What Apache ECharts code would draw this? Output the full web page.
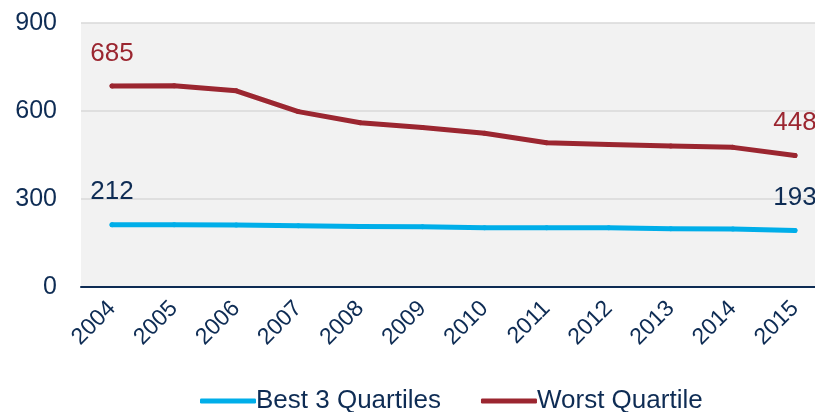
<!DOCTYPE html>
<html>
<head>
<meta charset="utf-8">
<script src="https://cdn.jsdelivr.net/npm/echarts@6/dist/echarts.min.js"></script>
<style>
  html, body { margin: 0; padding: 0; background: #fff; }
  #chart { width: 815px; height: 412px; }
</style>
</head>
<body>
<div id="chart"></div>
<script>
// values
const years = ['2004', '2005', '2006', '2007', '2008', '2009', '2010', '2011', '2012', '2013', '2014', '2015']
const best3Quartiles = [212, 212, 211, 209, 206, 205, 202, 202, 202, 199, 198, 193]
const worstQuartile = [685, 686, 669, 598, 560, 544, 524, 492, 486, 481, 476, 448]
const yTicks = [0, 300, 600, 900]

const NAVY = '#0e2c54'
const BLUE = '#00aee9'
const RED = '#9b2630'
const FONT = '"Liberation Sans", Arial, sans-serif'

const chart = echarts.init(document.getElementById('chart'))

// only the first and last point carry a label
function endLabel(color) {
  return {
    show: true,
    position: 'top',
    distance: 17,
    color: color,
    fontSize: 26,
    fontFamily: FONT,
    formatter: p => (p.dataIndex === 0 || p.dataIndex === years.length - 1) ? String(p.value) : ''
  }
}

function lineSeries(name, data, color, labelColor) {
  return {
    name: name,
    type: 'line',
    data: data,
    symbol: 'circle',
    symbolSize: 5,
    itemStyle: { color: color },
    lineStyle: { color: color, width: 5, cap: 'round', join: 'round' },
    label: endLabel(labelColor),
    z: 3
  }
}

chart.setOption({
  animation: false,
  grid: {
    left: 81,
    top: 23,
    width: 745,
    height: 264,
    outerBoundsMode: 'none',
    containLabel: false,
    show: true,
    backgroundColor: '#f2f2f2',
    borderWidth: 0
  },
  legend: {
    left: 195,
    top: 383,
    itemWidth: 56,
    itemHeight: 5,
    itemGap: 40,
    icon: 'roundRect',
    textStyle: { color: NAVY, fontSize: 26, fontFamily: FONT, padding: [0, 0, 0, -5] },
    data: ['Best 3 Quartiles', 'Worst Quartile']
  },
  xAxis: {
    type: 'category',
    data: years,
    boundaryGap: true,
    axisLine: { lineStyle: { color: NAVY, width: 2 } },
    axisTick: { show: false },
    axisLabel: {
      rotate: 45,
      margin: 18,
      color: NAVY,
      fontSize: 23,
      fontFamily: FONT
    }
  },
  yAxis: {
    type: 'value',
    min: yTicks[0],
    max: yTicks[yTicks.length - 1],
    interval: yTicks[1] - yTicks[0],
    axisLine: { show: false },
    axisTick: { show: false },
    splitLine: { lineStyle: { color: '#d9d9d9', width: 1.5 } },
    axisLabel: {
      margin: 24,
      color: NAVY,
      fontSize: 25,
      fontFamily: FONT
    }
  },
  series: [
    lineSeries('Best 3 Quartiles', best3Quartiles, BLUE, NAVY),
    lineSeries('Worst Quartile', worstQuartile, RED, RED)
  ]
})
</script>
</body>
</html>
